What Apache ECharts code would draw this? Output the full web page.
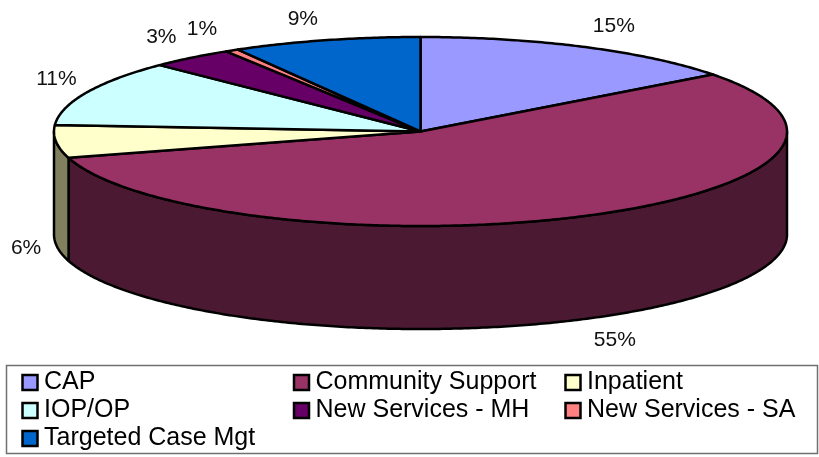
<!DOCTYPE html>
<html>
<head>
<meta charset="utf-8">
<style>html,body{margin:0;padding:0;background:#fff}#c{width:819px;height:457px}</style>
<script src="https://cdn.jsdelivr.net/npm/echarts@6/dist/echarts.min.js"></script>
</head>
<body>
<div id="c"></div>
<script>
const categories = ['CAP','Community Support','Inpatient','IOP/OP','New Services - MH','New Services - SA','Targeted Case Mgt'];
const shares = [14.7,55.8,5.6,11.3,3.7,0.6,8.3];
const percentLabels = ['15%','55%','6%','11%','3%','1%','9%'];
const topColors = ['#9999FF','#993366','#FFFFCC','#CCFFFF','#660066','#FF8080','#0066CC'];
const wallColors = ['#4C4C80','#4C1933','#80805F','#668080','#330033','#804040','#003366'];
const legendColumns = [[0,3,6],[1,4],[2,5]];

const CX = 420.5, CY = 131.5, RX = 366.5, RY = 94.5, DEPTH = 103;
const total = shares.reduce((a,b)=>a+b,0);
const startOf = i => shares.slice(0,i).reduce((a,b)=>a+b,0)/total*2*Math.PI;
const px = t => CX + RX*Math.sin(t);
const py = (t,d=0) => CY - RY*Math.cos(t) + d;
const clamp = (v,a,b) => Math.max(a,Math.min(b,v));

function arc(a,b,d){
  const n = Math.max(2,Math.ceil((b-a)/0.01)), pts = [];
  for(let k=0;k<=n;k++){const t=a+(b-a)*k/n;pts.push([px(t),py(t,d)]);}
  return pts;
}
function renderSlice(params, api){
  const i = params.seriesIndex;
  const a = startOf(i), sweep = api.value(0)/total*2*Math.PI, b = a+sweep;
  const children = [];
  const lineStyle = {stroke:'#000',lineWidth:2.5,lineJoin:'round'};
  const wa = Math.max(a,Math.PI/2), wb = Math.min(b,1.5*Math.PI);
  if(wb>wa){
    children.push({type:'polygon',shape:{points:arc(wa,wb,0).concat(arc(wa,wb,DEPTH).reverse())},
      style:Object.assign({fill:wallColors[i]},lineStyle)});
  }
  children.push({type:'polygon',z2:5,shape:{points:[[CX,CY]].concat(arc(a,b,0))},
    style:Object.assign({fill:topColors[i]},lineStyle)});
  const m = (a+b)/2, s = Math.sin(m), c = Math.cos(m);
  const front = m>Math.PI/2 && m<1.5*Math.PI;
  children.push({type:'text',z2:10,style:{
    x:px(m)+30*clamp(3*s,-1,1),
    y:py(m,front?DEPTH:0)-21*clamp(1.5*c,-1,1),
    text:percentLabels[i],fill:'#111',
    font:'21px "Liberation Sans", Arial, sans-serif',
    align:'center',verticalAlign:'middle'}});
  return {type:'group',children};
}

const series = categories.map((name,i)=>({
  type:'custom',name,coordinateSystem:'none',silent:true,animation:false,
  itemStyle:{color:topColors[i]},
  data:[[shares[i]]],
  renderItem:renderSlice
}));
const legend = legendColumns.map((col,k)=>({
  orient:'vertical',left:[15.25,286.75,558.25][k],top:370,
  data:col.map(i=>categories[i]),
  icon:'rect',itemWidth:15,itemHeight:15,itemGap:3,padding:[0,0,0,6],
  selectedMode:false,
  itemStyle:{borderColor:'#000',borderWidth:2.5},
  textStyle:{fontFamily:'"Liberation Sans", Arial, sans-serif',fontSize:25,color:'#000',padding:[0,0,0,1.5]}
}));
const chart = echarts.init(document.getElementById('c'),null,{renderer:'canvas'});
chart.setOption({
  animation:false,
  backgroundColor:'#fff',
  legend,
  graphic:[{type:'rect',z:-1,shape:{x:6.5,y:365.5,width:811,height:88},style:{fill:'#fff',stroke:'#707070',lineWidth:1.5}}],
  series
});
</script>
</body>
</html>
